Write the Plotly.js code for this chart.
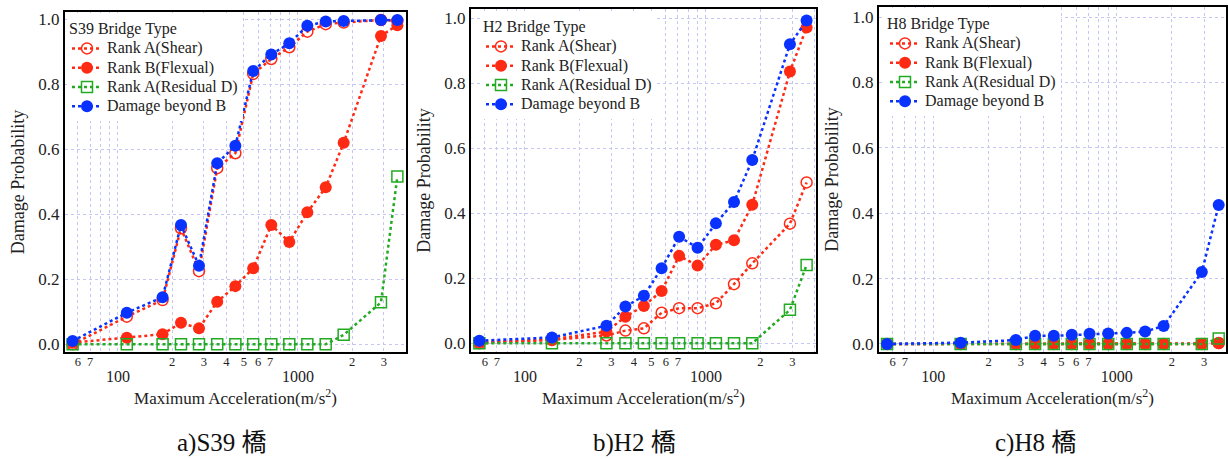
<!DOCTYPE html>
<html>
<head>
<meta charset="utf-8">
<script src="https://cdn.plot.ly/plotly-3.0.1.min.js"></script>
<style>html,body{margin:0;padding:0;background:#fff;}#chart{width:1228px;height:459px;}</style>
</head>
<body>
<div id="chart"></div>
<script>
// ---- data ----
const seriesNames = ['Rank A(Shear)', 'Rank B(Flexual)', 'Rank A(Residual D)', 'Damage beyond B'];
const panelTitles = ['S39 Bridge Type', 'H2 Bridge Type', 'H8 Bridge Type'];
const captions = ['a)S39 橋', 'b)H2 橋', 'c)H8 橋'];

const accS39 = [56, 112, 177, 224, 282, 356, 449, 564, 711, 895, 1127, 1426, 1794, 2891, 3565];
const s39Shear  = [0.0, 0.085, 0.136, 0.357, 0.225, 0.542, 0.588, 0.832, 0.878, 0.914, 0.962, 0.985, 0.990, 0.998, 0.995];
const s39Flex   = [0.005, 0.020, 0.031, 0.066, 0.049, 0.131, 0.179, 0.234, 0.367, 0.315, 0.406, 0.483, 0.620, 0.949, 0.982];
const s39Resid  = [0, 0, 0, 0, 0, 0, 0, 0, 0, 0, 0, 0, 0.029, 0.129, 0.516];
const s39Beyond = [0.010, 0.097, 0.145, 0.367, 0.242, 0.557, 0.611, 0.841, 0.892, 0.926, 0.980, 0.993, 0.995, 0.998, 0.998];

const accH = [56, 141, 282, 359, 454, 569, 711, 899, 1135, 1429, 1803, 2911, 3599];
const h2Shear  = [0.0, 0.010, 0.024, 0.039, 0.046, 0.094, 0.108, 0.108, 0.123, 0.182, 0.246, 0.368, 0.495];
const h2Flex   = [0.003, 0.012, 0.036, 0.082, 0.115, 0.161, 0.269, 0.239, 0.303, 0.317, 0.426, 0.836, 0.972];
const h2Resid  = [0, 0, 0, 0, 0, 0, 0, 0, 0, 0, 0, 0.103, 0.241];
const h2Beyond = [0.008, 0.018, 0.054, 0.113, 0.146, 0.231, 0.328, 0.294, 0.369, 0.435, 0.564, 0.920, 0.993];

const h8Shear  = [0, 0, 0, 0, 0, 0, 0, 0, 0, 0, 0, 0, 0.003];
const h8Flex   = [0, 0, 0, 0, 0, 0, 0, 0, 0, 0, 0, 0, 0.002];
const h8Resid  = [0, 0, 0, 0, 0, 0, 0, 0, 0, 0, 0, 0, 0.017];
const h8Beyond = [0.0, 0.004, 0.012, 0.025, 0.025, 0.028, 0.031, 0.032, 0.034, 0.038, 0.055, 0.220, 0.425];

const xTickVals = [60, 70, 100, 200, 300, 400, 500, 600, 700, 1000, 2000, 3000];
const xTickText = ['6', '7', '100', '2', '3', '4', '5', '6', '7', '1000', '2', '3'];
const xMajor = ['100', '1000'];
const yTickVals = [0, 0.2, 0.4, 0.6, 0.8, 1.0];
const yTickText = ['0.0', '0.2', '0.4', '0.6', '0.8', '1.0'];

// ---- styling ----
const W = 1228, H = 459;
const SERIF = '"Liberation Serif", serif';
const CJK = '"Liberation Serif", "Noto Sans CJK JP", serif';
const RED = '#ff2a14', BLUE = '#0a32ff', GREEN = '#22aa22';
const GRID = '#c6c6f4';

const panels = [
  {acc: accS39, ys: [s39Shear, s39Flex, s39Resid, s39Beyond], box: [65, 406, 12, 352], xr: [1.706, 3.600], yr: [-0.0237, 1.0225], leg: [67, 13]},
  {acc: accH, ys: [h2Shear, h2Flex, h2Resid, h2Beyond], box: [471, 816, 9, 352], xr: [1.702, 3.608], yr: [-0.0268, 1.0286], leg: [481, 11]},
  {acc: accH, ys: [h8Shear, h8Flex, h8Resid, h8Beyond], box: [879, 1226, 7, 352], xr: [1.704, 3.596], yr: [-0.0245, 1.0306], leg: [885, 8]}
];

const markerStyles = [
  {symbol: 'circle-open', size: 11, color: RED, line: {color: RED, width: 1.5}},
  {symbol: 'circle', size: 12, color: RED},
  {symbol: 'square-open', size: 11, color: GREEN, line: {color: GREEN, width: 1.5}},
  {symbol: 'circle', size: 12, color: BLUE}
];
const lineColors = [RED, RED, GREEN, BLUE];

// decade labels go on a second, lower row in a larger size
const tickText = xTickText.map(t =>
  xMajor.includes(t) ? '<br><span style="font-size:16px">' + t + '</span>' : t);

const data = [];
const layout = {
  width: W, height: H,
  margin: {l: 0, r: 0, t: 0, b: 0},
  paper_bgcolor: '#fff', plot_bgcolor: '#fff',
  font: {family: SERIF, color: '#222'},
  showlegend: true,
  annotations: []
};

panels.forEach((p, k) => {
  const sfx = k === 0 ? '' : String(k + 1);
  const legName = 'legend' + sfx;
  p.ys.forEach((y, j) => {
    data.push({
      type: 'scatter', mode: 'lines+markers',
      x: p.acc, y: y,
      xaxis: 'x' + sfx, yaxis: 'y' + sfx,
      name: '<span style="font-size:16px">' + seriesNames[j] + '</span>',
      legend: legName,
      line: {color: lineColors[j], width: 2.5, dash: '3px,3px'},
      marker: markerStyles[j],
      cliponaxis: true
    });
  });
  const [x0, x1, y0, y1] = p.box;
  layout['xaxis' + sfx] = {
    type: 'log', range: p.xr,
    domain: [x0 / W, x1 / W],
    anchor: 'y' + sfx,
    tickmode: 'array', tickvals: xTickVals, ticktext: tickText,
    tickfont: {family: SERIF, size: 12.5, color: '#222'},
    ticks: '', ticklabelstandoff: -3,
    showgrid: true, gridcolor: GRID, gridwidth: 1, griddash: 'dot',
    minor: {dtick: 'D1', showgrid: true, gridcolor: GRID, gridwidth: 1, griddash: 'dot', ticks: ''},
    zeroline: false,
    showline: true, linecolor: '#000', linewidth: 2, mirror: true,
    title: {text: 'Maximum Acceleration(m/s<sup>2</sup>)', font: {family: SERIF, size: 17, color: '#222'}, standoff: 8},
    automargin: false
  };
  layout['yaxis' + sfx] = {
    range: p.yr,
    domain: [1 - y1 / H, 1 - y0 / H],
    anchor: 'x' + sfx,
    tickmode: 'array', tickvals: yTickVals, ticktext: yTickText,
    tickfont: {family: SERIF, size: 17, color: '#222'},
    ticks: '',
    showgrid: true, gridcolor: GRID, gridwidth: 1, griddash: 'dot',
    zeroline: false,
    showline: true, linecolor: '#000', linewidth: 2, mirror: true,
    title: {text: 'Damage Probability', font: {family: SERIF, size: 18, color: '#222'}, standoff: 9},
    automargin: false
  };
  layout[legName] = {
    x: p.leg[0] / W, y: 1 - p.leg[1] / H, xanchor: 'left', yanchor: 'top',
    bgcolor: '#fff', borderwidth: 0,
    font: {family: SERIF, size: 12.5, color: '#222'},
    title: {text: panelTitles[k], font: {family: SERIF, size: 16, color: '#222'}},
    traceorder: 'normal'
  };
  layout.annotations.push({
    text: captions[k], xref: 'paper', yref: 'paper',
    x: [222, 634, 1035][k] / W, y: 1 - 443 / H,
    xanchor: 'center', yanchor: 'middle', showarrow: false,
    font: {family: CJK, size: 25, color: '#111'}
  });
});

Plotly.newPlot('chart', data, layout, {displayModeBar: false, staticPlot: true});
</script>
</body>
</html>
